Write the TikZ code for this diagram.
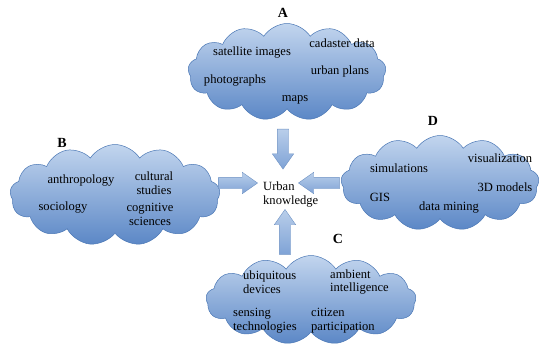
\documentclass[tikz,border=0pt]{standalone}
\usepackage{fontspec}
\setmainfont{Liberation Serif}
\usetikzlibrary{shapes.symbols,shapes.arrows}
\definecolor{cloudtop}{HTML}{C2D5EE}
\definecolor{cloudbot}{HTML}{5B87C6}
\definecolor{cloudedge}{HTML}{4A77B5}
\definecolor{arrowtop}{HTML}{B9CEEA}
\definecolor{arrowbot}{HTML}{7FA3D6}
\tikzset{
  cloudbox/.style={cloud, cloud puffs=13, cloud puff arc=115, cloud ignores aspect,
    top color=cloudtop, bottom color=cloudbot, draw=cloudedge, line width=0.5bp,
    inner sep=0pt},
  item/.style={font=\fontsize{12.6}{14}\selectfont, align=center, inner sep=0pt, text=black},
  itemw/.style={item, align=left, anchor=west},
  tag/.style={font=\fontsize{14}{14}\selectfont\bfseries, inner sep=0pt},
  fat/.style={single arrow, single arrow head extend=5bp, single arrow tip angle=70,
    inner sep=5.5bp, top color=arrowtop, bottom color=arrowbot, draw=cloudedge!80,
    line width=0.4bp}
}
\begin{document}
\begin{tikzpicture}[x=1bp,y=-1bp]
\useasboundingbox (0,0) rectangle (542,350);
\fill[white] (0,0) rectangle (542,350);

% four source clouds
\node[cloudbox, minimum width=198bp, minimum height=97bp] (A) at (287,72) {};
\node[cloudbox, minimum width=210bp, minimum height=101bp] (B) at (115,195) {};
\node[cloudbox, minimum width=198bp, minimum height=95bp] (D) at (440,183) {};
\node[cloudbox, minimum width=210bp, minimum height=89bp] (C) at (311,300) {};

% group tags
\node[tag] (tA) at (283,13) {A};
\node[tag] (tB) at (62,143) {B};
\node[tag] (tD) at (433,121) {D};
\node[tag] (tC) at (338,239) {C};

% centre
\node[itemw] (K) at (263,194.5) {Urban\\knowledge};

% block arrows towards the centre
\node[fat, minimum height=40bp, minimum width=20bp, shape border rotate=270] (aA) at (283,145) {};
\node[fat, minimum height=39bp, minimum width=21bp] (aB) at (234,183) {};
\node[fat, minimum height=41bp, minimum width=21bp, shape border rotate=180] (aD) at (323,183) {};
\node[fat, minimum height=45bp, minimum width=21bp, shape border rotate=90] (aC) at (285,236) {};

% cloud A contents
\node[item] at (252,52) {satellite images};
\node[item] at (342,43) {cadaster data};
\node[item] at (235,80) {photographs};
\node[item] at (340,71) {urban plans};
\node[item] at (295,100) {maps};

% cloud B contents
\node[item] at (81,180) {anthropology};
\node[item] at (154,183.5) {cultural\\studies};
\node[item] at (63,207) {sociology};
\node[item] at (150,214) {cognitive\\sciences};

% cloud D contents
\node[item] at (399,168) {simulations};
\node[item] at (500,158) {visualization};
\node[item] at (505,187) {3D models};
\node[item] at (380,197) {GIS};
\node[item] at (449,207) {data mining};

% cloud C contents
\node[itemw] at (243,282) {ubiquitous\\devices};
\node[itemw] at (330,282) {ambient\\intelligence};
\node[itemw] at (233,320.5) {sensing\\technologies};
\node[itemw] at (311,320.5) {citizen\\participation};
\end{tikzpicture}
\end{document}
